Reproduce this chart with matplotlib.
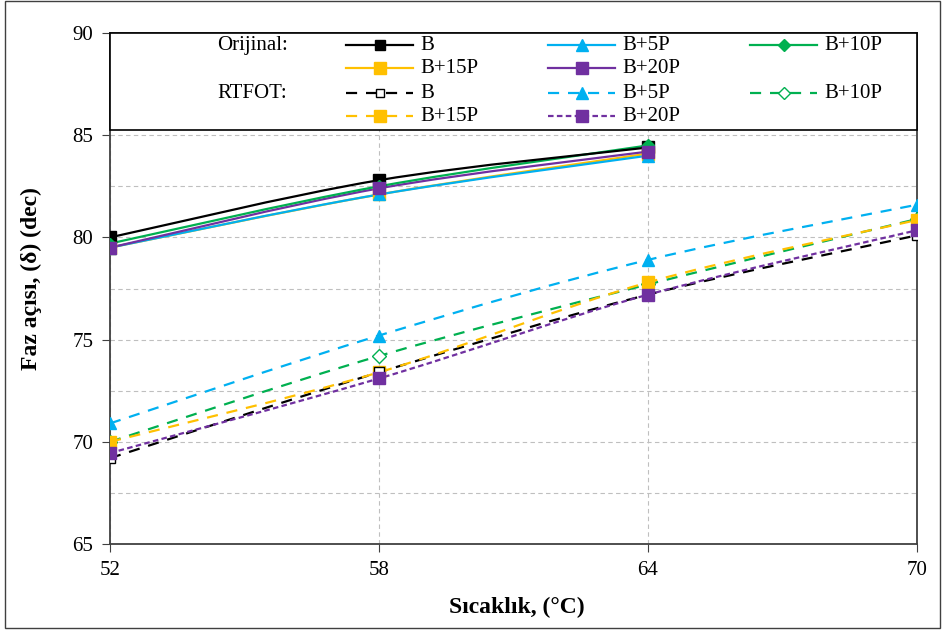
import matplotlib
matplotlib.use("Agg")
import matplotlib.pyplot as plt
from matplotlib.path import Path
from matplotlib.patches import PathPatch, Rectangle
from matplotlib.lines import Line2D

plt.rcParams['font.family'] = ['Liberation Serif', 'DejaVu Serif']

# ---- data ----
temps_orig = [52, 58, 64]
temps_rtfot = [52, 58, 64, 70]
series_names = ["B", "B+5P", "B+10P", "B+15P", "B+20P"]
orig_B = [80.0, 82.8, 84.4]
orig_B5 = [79.5, 82.1, 84.0]
orig_B10 = [79.7, 82.5, 84.5]
orig_B15 = [79.5, 82.1, 84.1]
orig_B20 = [79.5, 82.4, 84.2]
rt_B = [69.2, 73.4, 77.2, 80.1]
rt_B5 = [70.9, 75.2, 78.9, 81.6]
rt_B10 = [70.0, 74.2, 77.7, 80.9]
rt_B15 = [70.0, 73.4, 77.8, 80.85]
rt_B20 = [69.45, 73.1, 77.2, 80.35]
x_ticks = [52, 58, 64, 70]
y_ticks = [65, 70, 75, 80, 85, 90]

colors = ["#000000", "#00B0F0", "#00B050", "#FFC000", "#7030A0"]
markers = ["s", "^", "D", "s", "s"]
msizes = [8, 9, 6, 9, 9]
rt_faces = ["white", "#00B0F0", "white", "#FFC000", "#7030A0"]
rt_msizes = [7, 9, 7, 9, 9]
rt_dashes = [(5, 4), (5, 4), (5, 4), (5, 4), (2.5, 1.5)]

fig = plt.figure(figsize=(9.5, 6.35), dpi=100)
ax = fig.add_axes([0.1158, 0.1433, 0.8495, 0.8047])


def smooth_path(xs, ys):
    pts = list(zip(xs, ys))
    n = len(pts)
    verts = [pts[0]]
    codes = [Path.MOVETO]
    for i in range(n - 1):
        p0 = pts[i - 1] if i > 0 else pts[i]
        p1 = pts[i]
        p2 = pts[i + 1]
        p3 = pts[i + 2] if i + 2 < n else pts[i + 1]
        c1 = (p1[0] + (p2[0] - p0[0]) / 6.0, p1[1] + (p2[1] - p0[1]) / 6.0)
        c2 = (p2[0] - (p3[0] - p1[0]) / 6.0, p2[1] - (p3[1] - p1[1]) / 6.0)
        verts += [c1, c2, p2]
        codes += [Path.CURVE4, Path.CURVE4, Path.CURVE4]
    return Path(verts, codes)


orig = [orig_B, orig_B5, orig_B10, orig_B15, orig_B20]
rt = [rt_B, rt_B5, rt_B10, rt_B15, rt_B20]

for i in [0, 1, 2, 3, 4]:
    pp = PathPatch(smooth_path(temps_rtfot, rt[i]), fill=False, edgecolor=colors[i],
                   lw=1.6, linestyle=(0, rt_dashes[i]), zorder=3)
    ax.add_patch(pp)
for i in [1, 2, 3, 0, 4]:
    ax.plot(temps_rtfot, rt[i], linestyle='none', marker=markers[i], ms=rt_msizes[i],
            mfc=rt_faces[i], mec=colors[i], mew=1.0, zorder=4)

for i in [3, 1, 4, 2, 0]:
    pp = PathPatch(smooth_path(temps_orig, orig[i]), fill=False, edgecolor=colors[i],
                   lw=1.6, zorder=5)
    ax.add_patch(pp)
for i in [0, 3, 1, 2, 4]:
    ax.plot(temps_orig, orig[i], linestyle='none', marker=markers[i], ms=msizes[i],
            mfc=colors[i], mec=colors[i], zorder=6)

ax.set_xlim(52, 70)
ax.set_ylim(65, 90)
ax.set_xticks(x_ticks)
ax.set_yticks(y_ticks)
ax.set_yticks([67.5, 72.5, 77.5, 82.5, 87.5], minor=True)
ax.tick_params(axis='y', which='minor', length=0)
ax.tick_params(axis='both', which='major', labelsize=15, direction='out', length=6,
               color='#404040', pad=6)
ax.grid(True, which='major', linestyle=(0, (4, 3)), color='#BFBFBF', lw=0.8)
ax.grid(True, which='minor', axis='y', linestyle=(0, (4, 3)), color='#BFBFBF', lw=0.8)
ax.set_axisbelow(True)
for s in ax.spines.values():
    s.set_color('#404040')
    s.set_linewidth(1.3)

ax.set_xlabel("Sıcaklık, (°C)", fontsize=17, fontweight='bold')
ax.set_ylabel("Faz açısı, (δ) (dec)", fontsize=17, fontweight='bold')
ax.xaxis.set_label_coords(0.504, -0.104)
ax.yaxis.set_label_coords(-0.084, 0.52)

# ---- legend box ----
top = 1.0
bot = 1 - (130 - 33) / 511.0
ax.add_patch(Rectangle((0, bot), 1, top - bot, transform=ax.transAxes, facecolor='white',
                       edgecolor='black', lw=1.2, zorder=10, clip_on=False))
px0 = 110.0
pw = 807.0
ph = 511.0


def ax_x(px):
    return (px - px0) / pw


def ax_y(py):
    return 1 - (py - 33) / ph


rows_y = [45, 68, 93, 116]
col_handle = [346, 548, 750]
hl = 67
fs = 15
ax.text(ax_x(217), ax_y(rows_y[0]), "Orijinal:", transform=ax.transAxes, fontsize=fs,
        va='center', ha='left', zorder=11)
ax.text(ax_x(217), ax_y(rows_y[2]), "RTFOT:", transform=ax.transAxes, fontsize=fs,
        va='center', ha='left', zorder=11)
layout = [(0, 0, 0), (1, 0, 1), (2, 0, 2), (3, 1, 0), (4, 1, 1)]
leg_ms = [7, 9, 6, 8, 8]
leg_rt_ms = [6, 9, 6, 8, 8]
for group in range(2):
    for (i, r, cidx) in layout:
        row = rows_y[r + 2 * group]
        x1 = ax_x(col_handle[cidx])
        x2 = ax_x(col_handle[cidx] + hl)
        y = ax_y(row)
        if group == 0:
            ls = '-'
            mfc = colors[i]
            ms = leg_ms[i]
        else:
            ls = (0, rt_dashes[i])
            mfc = rt_faces[i]
            ms = leg_rt_ms[i]
        ax.add_line(Line2D([x1, x2], [y, y], transform=ax.transAxes, color=colors[i],
                           lw=1.6, linestyle=ls, zorder=11, clip_on=False))
        ax.add_line(Line2D([(x1 + x2) / 2], [y], transform=ax.transAxes, linestyle='none',
                           marker=markers[i], ms=ms, mfc=mfc, mec=colors[i],
                           zorder=12, clip_on=False))
        ax.text(ax_x(col_handle[cidx] + hl + 7), y, series_names[i], transform=ax.transAxes,
                fontsize=fs, va='center', ha='left', zorder=11)

# figure border
fig.add_artist(Rectangle((5 / 950, 1 - 628 / 635), 935 / 950, 627 / 635,
                         transform=fig.transFigure, fill=False, edgecolor='#404040', lw=1.0))

fig.savefig("out.png", dpi=100)
